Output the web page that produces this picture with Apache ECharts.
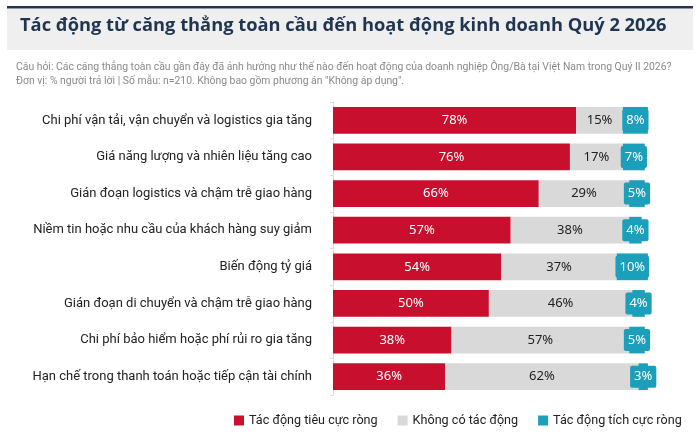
<!DOCTYPE html>
<html>
<head>
<meta charset="utf-8">
<script src="https://cdn.jsdelivr.net/npm/echarts@6/dist/echarts.min.js"></script>
<style>html,body{margin:0;padding:0;background:#fff}#c{width:700px;height:436px}</style>
</head>
<body>
<div id="c"></div>
<script>
const titleText = 'Tác động từ căng thẳng toàn cầu đến hoạt động kinh doanh Quý 2 2026';
const subtitleText = 'Câu hỏi: Các căng thẳng toàn cầu gần đây đã ảnh hưởng như thế nào đến hoạt động của doanh nghiệp Ông/Bà tại Việt Nam trong Quý II 2026?\nĐơn vị: % người trả lời | Số mẫu: n=210. Không bao gồm phương án "Không áp dụng".';
const categories = [
  'Chi phí vận tải, vận chuyển và logistics gia tăng',
  'Giá năng lượng và nhiên liệu tăng cao',
  'Gián đoạn logistics và chậm trễ giao hàng',
  'Niềm tin hoặc nhu cầu của khách hàng suy giảm',
  'Biến động tỷ giá',
  'Gián đoạn di chuyển và chậm trễ giao hàng',
  'Chi phí bảo hiểm hoặc phí rủi ro gia tăng',
  'Hạn chế trong thanh toán hoặc tiếp cận tài chính'
];
const seriesNames = ['Tác động tiêu cực ròng', 'Không có tác động', 'Tác động tích cực ròng'];
const negative = [78, 76, 66, 57, 54, 50, 38, 36];
const noImpact = [15, 17, 29, 38, 37, 46, 57, 62];
const positive = [8, 7, 5, 4, 10, 4, 5, 3];

const narrow = 'Roboto, "Noto Sans", sans-serif';
const chart = echarts.init(document.getElementById('c'), null, {renderer: 'canvas'});
chart.setOption({
  animation: false,
  backgroundColor: '#fff',
  graphic: [
    {type: 'rect', shape: {x: 7, y: 9, width: 686, height: 41}, style: {fill: '#efefef'}, z: -1},
    {type: 'rect', shape: {x: 7, y: 6, width: 686, height: 2.5}, style: {fill: '#1f3550'}}
  ],
  title: [
    {text: titleText, left: 20, top: 17, padding: 0, textStyle: {fontFamily: '"Open Sans", sans-serif', fontWeight: 'bold', fontSize: 18.3, color: '#1f3550'}},
    {text: subtitleText, left: 16, top: 60, padding: 0, textStyle: {fontFamily: narrow, fontWeight: 'normal', fontSize: 10.4, lineHeight: 14, color: '#8a8a8a'}}
  ],
  legend: {
    data: seriesNames,
    left: 234, top: 414, padding: 0,
    icon: 'rect', itemWidth: 10, itemHeight: 10, itemGap: 20,
    textStyle: {fontFamily: narrow, fontSize: 12.6, color: '#222'}
  },
  grid: {left: 333, right: 49, top: 102, bottom: 41, containLabel: false, outerBoundsMode: 'none'},
  xAxis: {type: 'value', min: 0, max: 102, show: false},
  yAxis: {
    type: 'category', data: categories, inverse: true,
    axisLine: {show: true, lineStyle: {color: '#dcdcdc'}},
    axisTick: {show: true, length: 3, lineStyle: {color: '#dcdcdc'}},
    axisLabel: {fontFamily: narrow, fontSize: 13, color: '#222', margin: 21}
  },
  series: [
    {name: seriesNames[0], type: 'bar', stack: 't', data: negative, barCategoryGap: '27%',
     itemStyle: {color: '#c8102e'},
     label: {show: true, position: 'inside', formatter: '{c}%', color: '#fff', fontFamily: '"Noto Sans", sans-serif', fontSize: 13}},
    {name: seriesNames[1], type: 'bar', stack: 't', data: noImpact,
     itemStyle: {color: '#d9d9d9'},
     label: {show: true, position: 'inside', formatter: '{c}%', color: '#222', fontFamily: '"Noto Sans", sans-serif', fontSize: 13}},
    {name: seriesNames[2], type: 'bar', stack: 't', data: positive,
     itemStyle: {color: '#1b9fba'},
     label: {show: true, position: 'inside', formatter: '{c}%', color: '#fff', fontFamily: '"Noto Sans", sans-serif', fontSize: 13,
       backgroundColor: '#1b9fba', padding: [5, 4, 4, 4], borderRadius: 2}}
  ]
});
</script>
</body>
</html>
